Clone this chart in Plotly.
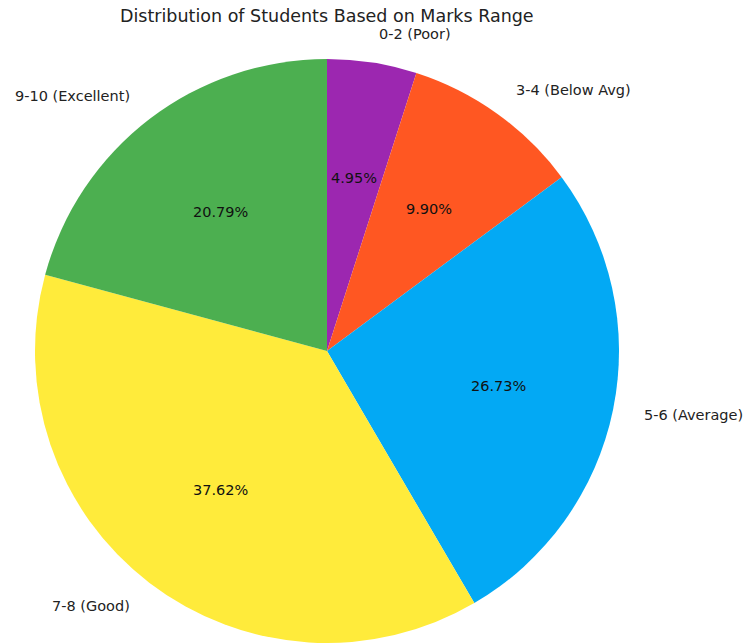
import math
import plotly.graph_objects as go

labels = ["0-2 (Poor)", "3-4 (Below Avg)", "5-6 (Average)", "7-8 (Good)", "9-10 (Excellent)"]
counts = [5, 10, 27, 38, 21]
colors = ["#9C27B0", "#FF5722", "#03A9F4", "#FFEB3B", "#4CAF50"]
title = "Distribution of Students Based on Marks Range"

W, H = 747, 643
cx, cy, r = 327, 351, 292          # pie centre / radius in pixels
lab_r, pct_r = 1.1, 0.6            # matplotlib-like label distances

fig = go.Figure(go.Pie(
    labels=labels, values=counts, sort=False, direction="clockwise", rotation=0,
    marker=dict(colors=colors, line=dict(width=0)),
    textinfo="none", hoverinfo="label+percent", showlegend=False,
    domain=dict(x=[(cx - r) / W, (cx + r) / W], y=[1 - (cy + r) / H, 1 - (cy - r) / H]),
))

total = sum(counts)
annotations = []
cum = 0
for lab, c in zip(labels, counts):
    mid = (cum + c / 2) / total * 2 * math.pi
    cum += c
    sx, sy = math.sin(mid), math.cos(mid)
    # outer label
    lx = cx + lab_r * r * sx
    ly = cy - lab_r * r * sy
    annotations.append(dict(
        x=lx / W, y=1 - ly / H, xref="paper", yref="paper", text=lab, showarrow=False,
        xanchor="left" if sx > 0 else "right", yanchor="middle",
        font=dict(family="DejaVu Sans", size=14.5, color="#222222"),
    ))
    # percent label
    px = cx + pct_r * r * sx
    py = cy - pct_r * r * sy
    annotations.append(dict(
        x=px / W, y=1 - py / H, xref="paper", yref="paper",
        text=f"{c / total * 100:.2f}%", showarrow=False, xanchor="center", yanchor="middle",
        font=dict(family="DejaVu Sans", size=14.5, color="#111111"),
    ))

annotations.append(dict(
    x=cx / W, y=1 - 16 / H, xref="paper", yref="paper", text=title, showarrow=False,
    xanchor="center", yanchor="middle", font=dict(family="DejaVu Sans", size=17.5, color="#222222"),
))

fig.update_layout(
    width=W, height=H, margin=dict(l=0, r=0, t=0, b=0),
    paper_bgcolor="white", plot_bgcolor="white", annotations=annotations,
)
fig.write_html("out.html")
